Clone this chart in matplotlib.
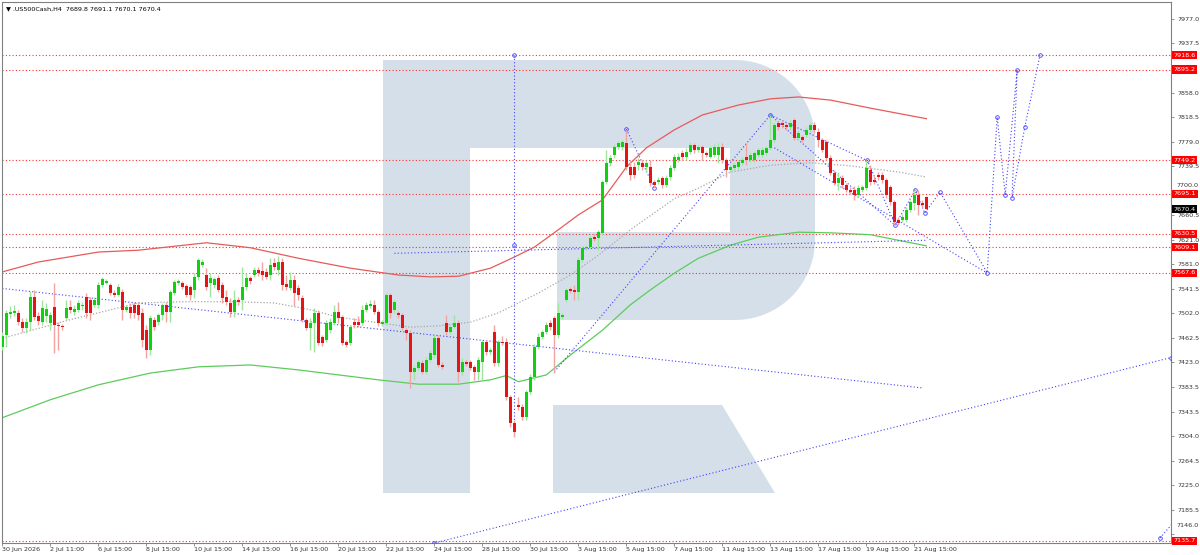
import numpy as np
import matplotlib
matplotlib.use("Agg")
import matplotlib.pyplot as plt
from matplotlib.patches import Polygon
from matplotlib.transforms import Affine2D, blended_transform_factory

# H4 bars
opens = [
    7448, 7467, 7501, 7503, 7503, 7488, 7478, 7488, 7528, 7498,
    7488, 7498, 7487, 7512, 7483, 7482, 7495, 7512, 7504, 7508,
    7514, 7528, 7524, 7516, 7516, 7548, 7551, 7548, 7535, 7532,
    7537, 7508, 7512, 7516, 7516, 7503, 7475, 7443, 7491, 7488,
    7500, 7516, 7504, 7535, 7551, 7551, 7546, 7545, 7540, 7561,
    7580, 7564, 7551, 7548, 7559, 7548, 7528, 7519, 7504, 7524,
    7524, 7545, 7559, 7564, 7572, 7570, 7569, 7564, 7583, 7572,
    7585, 7549, 7543, 7556, 7543, 7527, 7491, 7478, 7487, 7503,
    7464, 7459, 7475, 7487, 7504, 7497, 7456, 7454, 7488, 7488,
    7487, 7508, 7514, 7516, 7504, 7485, 7487, 7532, 7508, 7503,
    7500, 7475, 7470, 7408, 7414, 7422, 7408, 7427, 7435, 7462,
    7419, 7487, 7472, 7480, 7487, 7408, 7424, 7424, 7416, 7408,
    7424, 7456, 7440, 7472, 7422, 7456, 7456, 7367, 7325, 7354,
    7351, 7335, 7375, 7400, 7448, 7464, 7472, 7487, 7495, 7467,
    7497, 7524, 7541, 7540, 7537, 7588, 7607, 7609, 7625, 7624,
    7632, 7714, 7745, 7757, 7770, 7770, 7777, 7738, 7738, 7741,
    7745, 7738, 7738, 7714, 7714, 7720, 7709, 7722, 7737, 7749,
    7761, 7754, 7762, 7774, 7765, 7770, 7761, 7754, 7757, 7757,
    7770, 7749, 7733, 7737, 7738, 7745, 7754, 7749, 7749, 7757,
    7757, 7761, 7769, 7782, 7809, 7809, 7806, 7803, 7814, 7785,
    7787, 7790, 7798, 7806, 7795, 7782, 7778, 7753, 7728, 7712,
    7720, 7709, 7701, 7701, 7693, 7701, 7704, 7733, 7717, 7725,
    7725, 7717, 7706, 7682, 7653, 7653, 7653, 7669, 7680, 7693,
    7680, 7689.8]
highs = [
    7472, 7508, 7514, 7516, 7508, 7495, 7495, 7538, 7540, 7504,
    7524, 7519, 7504, 7551, 7488, 7485, 7524, 7524, 7516, 7524,
    7521, 7535, 7528, 7528, 7553, 7561, 7557, 7551, 7540, 7550,
    7541, 7516, 7519, 7521, 7521, 7511, 7483, 7500, 7497, 7503,
    7519, 7521, 7540, 7556, 7557, 7554, 7549, 7548, 7567, 7591,
    7590, 7575, 7567, 7561, 7564, 7553, 7540, 7527, 7540, 7528,
    7577, 7567, 7562, 7577, 7577, 7585, 7575, 7591, 7591, 7594,
    7591, 7564, 7569, 7564, 7548, 7532, 7495, 7495, 7511, 7508,
    7467, 7491, 7495, 7516, 7521, 7500, 7459, 7483, 7495, 7498,
    7516, 7521, 7524, 7524, 7508, 7491, 7535, 7535, 7524, 7506,
    7503, 7478, 7475, 7419, 7427, 7427, 7432, 7443, 7467, 7467,
    7424, 7500, 7483, 7500, 7491, 7430, 7427, 7427, 7419, 7432,
    7459, 7459, 7446, 7483, 7459, 7466, 7462, 7371, 7330, 7367,
    7356, 7378, 7404, 7453, 7470, 7475, 7488, 7491, 7498, 7519,
    7503, 7543, 7545, 7548, 7593, 7611, 7612, 7627, 7630, 7636,
    7717, 7765, 7757, 7775, 7780, 7782, 7798, 7749, 7746, 7753,
    7749, 7749, 7749, 7717, 7722, 7724, 7725, 7741, 7759, 7761,
    7765, 7769, 7778, 7777, 7774, 7774, 7764, 7772, 7775, 7777,
    7777, 7753, 7741, 7746, 7749, 7754, 7777, 7762, 7764, 7769,
    7770, 7772, 7822, 7811, 7812, 7814, 7809, 7814, 7817, 7798,
    7790, 7803, 7811, 7811, 7801, 7785, 7782, 7757, 7733, 7730,
    7725, 7712, 7706, 7707, 7709, 7709, 7749, 7741, 7724, 7730,
    7730, 7720, 7709, 7685, 7658, 7662, 7674, 7685, 7701, 7701,
    7685, 7691.1]
lows = [
    7443, 7448, 7495, 7498, 7483, 7472, 7470, 7475, 7491, 7483,
    7483, 7488, 7475, 7438, 7443, 7475, 7491, 7503, 7500, 7504,
    7508, 7495, 7491, 7512, 7511, 7545, 7550, 7532, 7528, 7530,
    7491, 7504, 7495, 7495, 7491, 7448, 7430, 7435, 7475, 7483,
    7491, 7488, 7488, 7532, 7548, 7541, 7528, 7524, 7527, 7556,
    7577, 7540, 7529, 7543, 7537, 7519, 7516, 7497, 7497, 7516,
    7508, 7540, 7550, 7561, 7562, 7556, 7557, 7556, 7572, 7564,
    7540, 7540, 7540, 7514, 7524, 7488, 7475, 7443, 7440, 7451,
    7450, 7456, 7470, 7483, 7487, 7451, 7448, 7451, 7478, 7480,
    7483, 7504, 7511, 7501, 7482, 7482, 7483, 7495, 7503, 7495,
    7475, 7459, 7382, 7395, 7411, 7404, 7404, 7424, 7430, 7416,
    7413, 7467, 7469, 7478, 7392, 7403, 7417, 7411, 7395, 7395,
    7395, 7435, 7437, 7417, 7417, 7451, 7362, 7319, 7303, 7346,
    7330, 7330, 7372, 7395, 7445, 7461, 7469, 7475, 7406, 7462,
    7493, 7520, 7535, 7524, 7524, 7585, 7604, 7606, 7619, 7604,
    7629, 7711, 7740, 7753, 7767, 7765, 7733, 7717, 7720, 7733,
    7733, 7730, 7707, 7704, 7711, 7704, 7706, 7717, 7733, 7746,
    7749, 7749, 7759, 7761, 7762, 7749, 7754, 7753, 7754, 7745,
    7745, 7722, 7730, 7733, 7735, 7741, 7741, 7746, 7746, 7754,
    7754, 7757, 7765, 7778, 7798, 7801, 7798, 7798, 7782, 7782,
    7778, 7787, 7795, 7793, 7770, 7762, 7749, 7725, 7709, 7701,
    7704, 7698, 7695, 7685, 7690, 7698, 7701, 7709, 7711, 7717,
    7712, 7688, 7677, 7646, 7645, 7649, 7649, 7666, 7669, 7661,
    7674, 7670.1]
closes = [
    7466, 7503, 7504, 7506, 7488, 7478, 7488, 7528, 7497, 7490,
    7511, 7509, 7500, 7483, 7482, 7480, 7511, 7508, 7509, 7519,
    7516, 7503, 7503, 7524, 7548, 7557, 7554, 7535, 7532, 7545,
    7508, 7512, 7503, 7503, 7500, 7459, 7443, 7495, 7480, 7500,
    7516, 7504, 7537, 7553, 7554, 7545, 7532, 7532, 7561, 7588,
    7585, 7545, 7559, 7557, 7540, 7527, 7520, 7504, 7524, 7520,
    7545, 7559, 7554, 7572, 7567, 7564, 7561, 7580, 7577, 7585,
    7548, 7545, 7556, 7535, 7532, 7491, 7478, 7487, 7503, 7454,
    7454, 7487, 7488, 7504, 7495, 7454, 7451, 7480, 7483, 7483,
    7508, 7516, 7517, 7504, 7487, 7488, 7532, 7503, 7520, 7500,
    7478, 7470, 7408, 7414, 7424, 7408, 7427, 7438, 7462, 7419,
    7416, 7472, 7480, 7487, 7408, 7424, 7421, 7414, 7408, 7427,
    7456, 7440, 7443, 7422, 7456, 7454, 7367, 7325, 7311, 7351,
    7335, 7375, 7400, 7448, 7464, 7472, 7483, 7480, 7467, 7503,
    7500, 7540, 7538, 7537, 7588, 7607, 7609, 7624, 7622, 7634,
    7714, 7745, 7753, 7770, 7777, 7778, 7738, 7725, 7725, 7746,
    7738, 7745, 7712, 7709, 7717, 7709, 7720, 7737, 7754, 7754,
    7754, 7762, 7774, 7765, 7770, 7761, 7757, 7769, 7770, 7770,
    7749, 7733, 7738, 7741, 7746, 7749, 7749, 7757, 7761, 7765,
    7765, 7769, 7782, 7806, 7803, 7806, 7803, 7809, 7785, 7793,
    7782, 7798, 7806, 7798, 7782, 7765, 7753, 7728, 7712, 7720,
    7709, 7701, 7698, 7693, 7704, 7706, 7737, 7714, 7714, 7722,
    7717, 7693, 7682, 7649, 7648, 7658, 7669, 7682, 7693, 7677,
    7677, 7670.4]

# moving averages (bar index, price)
red_ma_bars = [0, 9, 24, 34, 51, 62, 74, 87, 99, 107, 114, 122, 128, 133, 139,
               144, 150, 156, 161, 168, 175, 184, 192, 199, 207, 217, 231]
red_ma = [7569, 7585, 7601, 7604, 7616, 7608, 7591, 7575, 7564, 7561, 7562, 7575,
          7593, 7609, 7637, 7661, 7685, 7738, 7769, 7798, 7822, 7838, 7848, 7851,
          7846, 7833, 7816]
green_ma_bars = [0, 12, 24, 37, 49, 62, 74, 84, 94, 104, 114, 122, 126, 129, 136,
                 142, 150, 157, 162, 168, 174, 182, 189, 199, 207, 217, 224, 231]
green_ma = [7334, 7363, 7387, 7406, 7416, 7419, 7411, 7403, 7395, 7388, 7388, 7395,
            7402, 7392, 7403, 7435, 7475, 7516, 7540, 7567, 7591, 7612, 7625, 7633,
            7632, 7629, 7620, 7611]
gray_ma_bars = [0, 17, 34, 46, 57, 68, 77, 84, 94, 102, 109, 117, 124, 134, 142,
                149, 157, 168, 174, 182, 192, 202, 212, 224, 231]
gray_ma = [7462, 7492, 7519, 7521, 7521, 7519, 7508, 7496, 7487, 7480, 7482, 7488,
           7503, 7535, 7564, 7596, 7637, 7687, 7704, 7730, 7741, 7745, 7740, 7730, 7722]

# horizontal levels and analysis lines
levels = [7918.6, 7895.2, 7749.2, 7695.1, 7630.5, 7609.1, 7567.6, 7135.7]
last_price = 7670.4
trend_lines = [
    (-1, 7543, 230, 7382),
    (98, 7599, 231, 7620),
    (128, 7918.6, 128, 7303),
    (138, 7408, 192, 7822),
    (156, 7799, 163, 7704),
    (192, 7822, 216, 7749),
    (192, 7822, 223, 7645),
    (193, 7769, 246, 7568),
    (108, 7132, 292.2, 7431),
    (289.4, 7140, 292.2, 7161),
]
pivot_bars = [128, 128, 156, 163, 192, 108, 292.2, 289.4]
pivot_prices = [7918.6, 7612, 7799, 7704, 7822, 7132, 7431, 7140]
fc_bars = [216.2, 223.2, 228.2, 230.6, 234.4, 246.2, 248.7, 250.7, 253.7, 252.4, 255.6, 259.4]
fc_prices = [7749.4, 7644.6, 7701.0, 7663.9, 7697.8, 7567.6, 7818.7, 7693.0,
             7895.2, 7688.1, 7802.6, 7918.6]

yticks = [7146.0, 7185.5, 7225.0, 7264.5, 7304.0, 7343.5, 7383.5, 7423.0, 7462.5,
          7502.0, 7541.5, 7581.0, 7621.0, 7660.5, 7700.0, 7739.5, 7779.0, 7818.5,
          7858.0, 7898.0, 7937.5, 7977.0]
date_bars = list(range(0, 229, 12))
date_labels = ["30 Jun 2026", "2 Jul 11:00", "6 Jul 15:00", "8 Jul 15:00",
               "10 Jul 15:00", "14 Jul 15:00", "16 Jul 15:00", "20 Jul 15:00",
               "22 Jul 15:00", "24 Jul 15:00", "28 Jul 15:00", "30 Jul 15:00",
               "3 Aug 15:00", "5 Aug 15:00", "7 Aug 15:00", "11 Aug 15:00",
               "13 Aug 15:00", "17 Aug 15:00", "19 Aug 15:00", "21 Aug 15:00"]

plt.rcParams['font.family'] = ['DejaVu Sans']
FS = 4.6

fig = plt.figure(figsize=(12, 5.55), dpi=100)
ax = fig.add_axes([2 / 1200, 12 / 555, 1169 / 1200, 541 / 555])
ax.set_facecolor('white')

# watermark logo, drawn in pixel space of the picture
pix = Affine2D().scale(1 / 1200, -1 / 555).translate(0, 1) + fig.transFigure
wm = '#d5dfea'


def arc(cx, cy, r, a0, a1):
    t = np.radians(np.linspace(a0, a1, 24))
    return list(zip(cx + r * np.cos(t), cy + r * np.sin(t)))


bowl = [(470, 60)] + arc(735, 140, 80, -90, 0) + arc(735, 240, 80, 0, 90) + \
       [(557, 320), (557, 232), (730, 232), (730, 148), (470, 148)]
stem = [(383, 60), (470, 60), (470, 493), (383, 493)]
leg = [(553, 405), (722, 405), (775, 493), (553, 493)]
for shape in (stem, bowl, leg):
    ax.add_patch(Polygon(shape, closed=True, fc=wm, ec='none', transform=pix, zorder=0))

# moving averages
ax.plot(red_ma_bars, red_ma, color='#e85a5a', lw=0.9, zorder=2)
ax.plot(green_ma_bars, green_ma, color='#5ccc5c', lw=0.9, zorder=2)
ax.plot(gray_ma_bars, gray_ma, color='#a8a8a8', lw=0.9, ls=(0, (1, 1.5)), zorder=2)

# levels
for lv in levels:
    ax.axhline(lv, color='#ff3030', lw=0.8, ls=(0, (1, 2)), zorder=1.5)

# blue analysis lines
blue = '#4040ff'
for b0, p0, b1, p1 in trend_lines:
    ax.plot([b0, b1], [p0, p1], color=blue, lw=0.8, ls=(0, (1, 2)), zorder=2.5)
ax.plot(fc_bars, fc_prices, color=blue, lw=0.8, ls=(0, (1, 2)), zorder=2.5)
ax.plot(fc_bars, fc_prices, ls='none', marker='o', ms=2.6, mfc='none', mec=blue, mew=0.6, zorder=2.6)
ax.plot(pivot_bars, pivot_prices, ls='none', marker='o', ms=2.6, mfc='none', mec=blue, mew=0.6, zorder=2.6)

# candles
o = np.array(opens)
h = np.array(highs)
l = np.array(lows)
c = np.array(closes)
x = np.arange(len(c))
up = c >= o
wick_col = np.where(up, '#9fe59f', '#f4a3a3')
body_col = np.where(up, '#10d010', '#e81414')
ax.vlines(x, l, h, colors=wick_col, lw=1.0, zorder=3)
bottom = np.minimum(o, c)
height = np.maximum(np.abs(c - o), 0.9)
ax.bar(x, height, bottom=bottom, width=0.72, color=body_col, lw=0, zorder=4)

ax.set_xlim(-0.1, 292.15)
ax.set_ylim(7132.0, 8004.1)

# axes styling
for s in ax.spines.values():
    s.set_color('#808080')
    s.set_linewidth(0.8)
ax.yaxis.tick_right()
ax.set_yticks(yticks)
# 7146.0 and 7700.0 are nudged by hand below, 7898.0 sits under the 7895.2 tag
hidden = (7146.0, 7700.0, 7898.0)
ax.set_yticklabels(['' if v in hidden else f'{v:.1f}' for v in yticks])
ax.tick_params(axis='y', labelsize=FS, labelcolor='#333333', length=2.5, width=0.6,
               color='#808080', pad=2)
ax.set_xticks(date_bars)
ax.set_xticklabels(date_labels)
ax.tick_params(axis='x', labelsize=FS, labelcolor='#333333', length=2.5, width=0.6,
               color='#808080', pad=0.5)
for t in ax.get_xticklabels():
    t.set_ha('left')

yb = blended_transform_factory(ax.transAxes, ax.transData)
for v, dy in ((7146.0, 6.5), (7700.0, 3.6)):
    ax.annotate(f'{v:.1f}', xy=(1, v), xycoords=yb, xytext=(4.3, dy),
                textcoords='offset points', ha='left', va='center', fontsize=FS,
                color='#333333', annotation_clip=False)

# price labels on the right scale
for lv in levels:
    ax.text(1.0022, lv, f'{lv:.1f}', transform=yb, ha='left', va='center',
            fontsize=FS, color='white', clip_on=False, zorder=10,
            bbox=dict(boxstyle='square,pad=0.25', fc='#ff0000', ec='none'))
ax.text(1.0022, last_price, f'{last_price:.1f}', transform=yb, ha='left', va='center',
        fontsize=FS, color='white', clip_on=False, zorder=10,
        bbox=dict(boxstyle='square,pad=0.25', fc='#000000', ec='none'))

ax.text(0.003, 0.993, '\u25bc .US500Cash,H4  7689.8 7691.1 7670.1 7670.4',
        transform=ax.transAxes, ha='left', va='top', fontsize=FS, color='black', zorder=10)

fig.savefig('out.png', dpi=100)
